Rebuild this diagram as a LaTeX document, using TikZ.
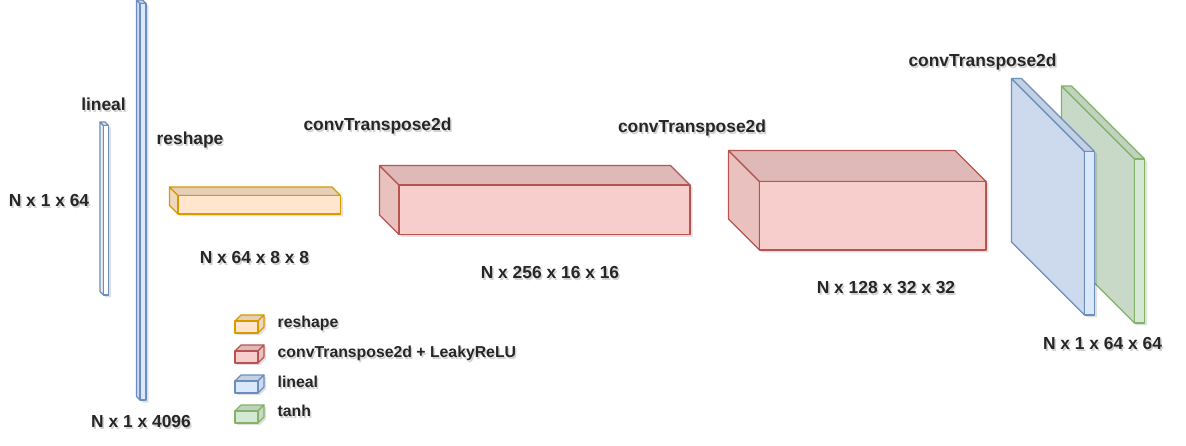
\documentclass[tikz,border=0pt]{standalone}
\usepackage{fontspec}
\setmainfont{Liberation Sans}
\definecolor{orF}{HTML}{FFE6CC}\definecolor{orD}{HTML}{D79B00}
\definecolor{rdF}{HTML}{F8CECC}\definecolor{rdD}{HTML}{B85450}
\definecolor{blF}{HTML}{DAE8FC}\definecolor{blD}{HTML}{6C8EBF}
\definecolor{gnF}{HTML}{D5E8D4}\definecolor{gnD}{HTML}{82B366}
\definecolor{whF}{HTML}{FFFFFF}\definecolor{whD}{HTML}{6C8EBF}
% cube with depth towards upper left: front x1 y1 x2 y2, depth, colour prefix
\newcommand\mycube[6]{%
  \fill[black,opacity=0.12] (#1-#5+2.5,#2-#5+2.5) -- (#3-#5+2.5,#2-#5+2.5) -- (#3+2.5,#2+2.5) -- (#3+2.5,#4+2.5) -- (#1+2.5,#4+2.5) -- (#1-#5+2.5,#4-#5+2.5) -- cycle;
  \filldraw[cubeline,fill=#6F!94!black,draw=#6D] (#1-#5,#2-#5) -- (#1,#2) -- (#1,#4) -- (#1-#5,#4-#5) -- cycle;
  \filldraw[cubeline,fill=#6F!90!black,draw=#6D] (#1-#5,#2-#5) -- (#3-#5,#2-#5) -- (#3,#2) -- (#1,#2) -- cycle;
  \filldraw[cubeline,fill=#6F,draw=#6D] (#1,#2) rectangle (#3,#4);
}
% legend cube with depth towards upper right
\newcommand\legcube[3]{% x1 y1 (front top-left), colour prefix
  \fill[black,opacity=0.12] (#1+2,#2+2) -- (#1+8,#2-4) -- (#1+31,#2-4) -- (#1+31,#2+8) -- (#1+25,#2+14) -- (#1+2,#2+14) -- cycle;
  \filldraw[cubeline,fill=#3F!90!black,draw=#3D] (#1,#2) -- (#1+6,#2-6) -- (#1+29,#2-6) -- (#1+23,#2) -- cycle;
  \filldraw[cubeline,fill=#3F!94!black,draw=#3D] (#1+23,#2) -- (#1+29,#2-6) -- (#1+29,#2+6) -- (#1+23,#2+12) -- cycle;
  \filldraw[cubeline,fill=#3F,draw=#3D] (#1,#2) rectangle (#1+23,#2+12);
}
\newcommand\lbl[3]{% name, position x,y, text
  \node[lab,black,opacity=0.18] at ([shift={(1.5,2)}]#2) {#3};
  \node[lab] (#1) at (#2) {#3};
}
\newcommand\leglbl[3]{%
  \node[leglab,anchor=west,black,opacity=0.18] at ([shift={(1.5,2)}]#2) {#3};
  \node[leglab,anchor=west] (#1) at (#2) {#3};
}
\tikzset{
  cubeline/.style={line width=1.1pt,line join=round},
  lab/.style={font=\fontsize{17.4}{20}\selectfont\bfseries,inner sep=0pt,text height=12.4pt,text depth=0pt,text=black!85},
  leglab/.style={font=\fontsize{15.8}{18}\selectfont\bfseries,inner sep=0pt,text height=11.3pt,text depth=0pt,text=black!85}
}
\begin{document}
\begin{tikzpicture}[x=1pt,y=-1pt]
\useasboundingbox[fill=white] (0,0) rectangle (1186,446);
% layers
\mycube{103.5}{125.5}{108.5}{295}{3.5}{wh}
\mycube{140}{3.5}{146}{400}{3.5}{bl}
\mycube{178}{195.5}{340.5}{214}{8.5}{or}
\mycube{399}{185}{690}{234.5}{19.5}{rd}
\mycube{759.5}{181.5}{986}{250}{31}{rd}
\mycube{1134.5}{159}{1144.5}{323}{73}{gn}
\mycube{1084.5}{151.5}{1094.5}{315}{73}{bl}
% labels
\lbl{tlineal}{103.5,104}{lineal}
\lbl{tin}{49,200}{N x 1 x 64}
\lbl{treshape}{190,138}{reshape}
\lbl{tflat}{141,421}{N x 1 x 4096}
\lbl{tct1}{377.5,124}{convTranspose2d}
\lbl{tr}{254.5,257}{N x 64 x 8 x 8}
\lbl{tct2}{692,126}{convTranspose2d}
\lbl{tc1}{550,272}{N x 256 x 16 x 16}
\lbl{tc2}{886,287}{N x 128 x 32 x 32}
\lbl{tct3}{982.5,60}{convTranspose2d}
\lbl{tout}{1102.5,343}{N x 1 x 64 x 64}
% legend
\legcube{235}{321}{or}
\legcube{235}{351}{rd}
\legcube{235}{381}{bl}
\legcube{235}{411}{gn}
\leglbl{l1}{277.5,322}{reshape}
\leglbl{l2}{277.5,352}{convTranspose2d + LeakyReLU}
\leglbl{l3}{277.5,382}{lineal}
\leglbl{l4}{277.5,410.5}{tanh}
\end{tikzpicture}
\end{document}
